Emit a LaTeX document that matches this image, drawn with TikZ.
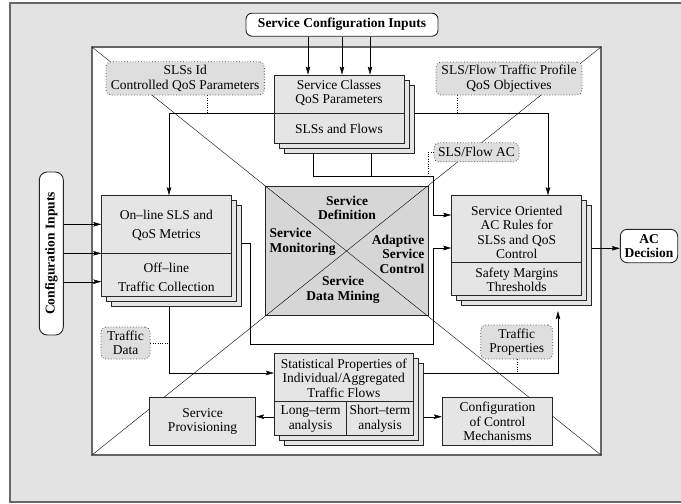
\documentclass[tikz,border=0pt]{standalone}
\usepackage{fontspec}
\setmainfont{Liberation Serif}
\usetikzlibrary{arrows.meta,calc,shadows}

\definecolor{bggray}{gray}{0.89}
\definecolor{boxgray}{gray}{0.90}
\definecolor{coregray}{gray}{0.84}
\definecolor{taggray}{gray}{0.87}
\definecolor{rimgray}{gray}{0.40}

\newcommand{\figfont}{\fontsize{13.5}{14.5}\selectfont}

\pgfdeclarelayer{back}
\pgfdeclarelayer{wires}
\pgfsetlayers{back,wires,main}

\tikzset{
  every node/.style={font=\figfont, inner sep=0pt, align=center},
  plainbox/.style={draw=black!85, fill=boxgray, line width=0.9pt},
  stackbox/.style={plainbox, double copy shadow={shadow xshift=5pt, shadow yshift=-5pt}},
  inbox/.style={draw=black!85, fill=white, rounded corners=6pt, line width=0.9pt, font=\figfont\bfseries},
  tag/.style={draw=black!70, dotted, line width=0.8pt, fill=taggray, rounded corners=5pt},
  divider/.style={draw=black!85, line width=0.9pt},
  corelabel/.style={font=\figfont\bfseries},
}

\begin{document}
\begin{tikzpicture}[x=1pt,y=-1pt,line width=0.8pt,>={Stealth[length=8pt,width=4.5pt,inset=1.5pt]}]
\useasboundingbox (0,0) rectangle (681,504);

\begin{pgfonlayer}{back}
% fondo y marco blanco
\fill[bggray,draw=rimgray,line width=1.2pt] (10,3) rectangle (700,502);
\draw[fill=white,draw=rimgray,line width=1.4pt] (92,47) rectangle (601,455);
% bloque central
\node[plainbox,fill=coregray,minimum width=163pt,minimum height=129pt] (core) at (346.5,250.5) {};
\end{pgfonlayer}

% textos del bloque central
\node[corelabel] (defn) at (347,208) {Service\\Definition};
\node[corelabel,anchor=west,align=left] (monit) at (269.5,242) {Service\\Monitoring};
\node[corelabel,anchor=east,align=right] (adapt) at (424.5,254) {Adaptive\\Service\\Control};
\node[corelabel] (mining) at (343,290) {Service\\Data Mining};

% entradas
\node[inbox,minimum width=192pt,minimum height=23pt] (svcin) at (342,24.7) {Service Configuration Inputs};
\node[inbox,rounded corners=8pt,minimum width=163pt,minimum height=24pt,rotate=90] (cfgin) at (51.3,253.5) {Configuration Inputs};
\node[inbox,rounded corners=7pt,minimum width=57.4pt,minimum height=33.4pt] (acdec) at (649,246) {AC\\Decision};

% Service Classes
\node[stackbox,minimum width=130pt,minimum height=68pt] (classes) at (339,109) {};
\node (classestop) at (339,93) {Service Classes\\QoS Parameters};
\node (classesbot) at (339,128.5) {SLSs and Flows};
\draw[divider] (classes.west |- 0,113) -- (classes.east |- 0,113);

% On-line / Off-line
\node[stackbox,minimum width=129.3pt,minimum height=100.3pt] (online) at (166.35,245.85) {};
\node (onlinetop) at (166.35,225.5) {On--line SLS and\\[4.5pt]QoS Metrics};
\node (onlinebot) at (166.35,277) {Off--line\\[4.5pt]Traffic Collection};
\draw[divider] (online.west |- 0,253.3) -- (online.east |- 0,253.3);

% AC rules
\node[stackbox,minimum width=130pt,minimum height=100pt] (rules) at (516.7,245.7) {};
\node (rulestop) at (516.7,232.5) {Service Oriented\\AC Rules for\\SLSs and QoS\\Control};
\node (rulesbot) at (516.7,279.7) {Safety Margins\\Thresholds};
\draw[divider] (rules.west |- 0,262.7) -- (rules.east |- 0,262.7);

% Statistical properties
\node[stackbox,minimum width=139pt,minimum height=81.7pt] (stats) at (343.8,394.15) {};
\node (statstop) at (343.8,378) {Statistical Properties of\\Individual/Aggregated\\Traffic Flows};
\node (statslong) at (310.5,419) {Long--term\\analysis};
\node (statsshort) at (380,419) {Short--term\\analysis};
\draw[divider] (stats.west |- 0,401.7) -- (stats.east |- 0,401.7);
\draw[divider] (346.7,401.7) -- (stats.south -| 346.7,0);

\node[plainbox,minimum width=106.4pt,minimum height=48.4pt] (prov) at (202.5,421.5) {Service\\Provisioning};
\node[plainbox,minimum width=110.4pt,minimum height=48.4pt] (ctrl) at (497.5,421.5) {Configuration\\of Control\\Mechanisms};

% etiquetas punteadas
\node[tag,minimum width=158.3pt,minimum height=33.3pt] (slsid) at (185.2,78.4) {SLSs Id\\Controlled QoS Parameters};
\node[tag,minimum width=146pt,minimum height=33pt] (profile) at (509,78.5) {SLS/Flow Traffic Profile\\QoS Objectives};
\node[tag,minimum width=85pt,minimum height=19pt] (acl) at (476.5,152.3) {SLS/Flow AC};
\node[tag,minimum width=49pt,minimum height=32pt] (trafdata) at (125.5,343) {Traffic\\Data};
\node[tag,minimum width=72pt,minimum height=34pt] (trafprop) at (516.7,342) {Traffic\\Properties};

\coordinate (tapL) at (207,113);
\coordinate (tapR) at (457,113);
\coordinate (tapAC) at (428,176);

\begin{pgfonlayer}{wires}
% diagonales del marco
\draw (92,47) -- (601,455);
\draw (601,47) -- (92,455);

\draw[->] (svcin.south -| 308,0) -- (classes.north -| 308,0);
\draw[->] (svcin.south -| 342,0) -- (classes.north -| 342,0);
\draw[->] (svcin.south -| 370,0) -- (classes.north -| 370,0);

\draw[->] (classes.west |- 0,113) -| (online.north -| 169,0);
\draw[->] (classes.east |- 0,113) -| (rules.north -| 548,0);
\draw[dotted] (slsid.south -| tapL) -- (tapL);
\draw[dotted] (profile.south -| tapR) -- (tapR);

\draw (classes.south -| 371,0) -- (371,176);
\draw[->] (classes.south -| 313,0) |- (433,176) |- (rules.west |- 0,215);
\draw[dotted] (acl.west) -| (tapAC);

\draw[->] (online.east |- 0,243.3) -| (250,344) -| (433,248) -- (rules.west |- 0,248);

\draw[->] (cfgin.south |- 0,224.3) -- (online.west |- 0,224.3);
\draw[->] (cfgin.south |- 0,253.3) -- (online.west |- 0,253.3);
\draw[->] (cfgin.south |- 0,281.7) -- (online.west |- 0,281.7);

\draw[->] (online.south -| 169,0) |- (stats.west |- 0,373);
\draw[dotted] (trafdata.east) -- (trafdata.east -| 169,0);

\draw[->] (stats.east |- 0,373) -| ($(rules.south -| 558,0)+(0,15)$);
\draw[dotted] (trafprop.south) -- (trafprop.south |- 0,373);

\draw[->] (stats.west |- 0,416.7) -- (prov.east |- 0,416.7);
\draw[->] (stats.east |- 0,416.7) -- (ctrl.west |- 0,416.7);
\draw[->] (rules.east |- 0,248.3) -- (acdec.west |- 0,248.3);
\end{pgfonlayer}
\end{tikzpicture}
\end{document}
